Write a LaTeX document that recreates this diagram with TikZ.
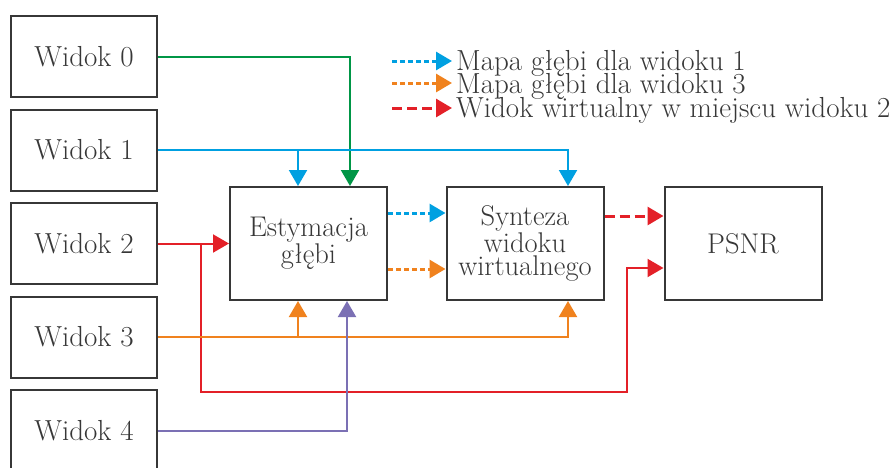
\documentclass[tikz,border=0pt]{standalone}
\usepackage{fontspec}
\usetikzlibrary{arrows.meta,calc,positioning}
\definecolor{boxgray}{RGB}{55,55,55}
\definecolor{cgreen}{RGB}{0,150,70}
\definecolor{cblue}{RGB}{0,160,225}
\definecolor{cred}{RGB}{227,32,40}
\definecolor{corange}{RGB}{240,130,30}
\definecolor{cpurple}{RGB}{123,112,180}

\begin{document}
\begin{tikzpicture}[x=1pt,y=-1pt,
            view box/.style={draw=boxgray, line width=2pt, minimum width=146pt, minimum height=81pt,
                font=\fontsize{29}{30}\selectfont, text=boxgray},
            block box/.style={draw=boxgray, line width=2pt, minimum width=157pt, minimum height=113pt,
                align=center, font=\fontsize{28.5}{23.5}\selectfont, text=boxgray},
            legend text/.style={anchor=base west, inner xsep=4pt, inner ysep=0pt, text height=17pt,
                text depth=5pt, font=\fontsize{29}{29}\selectfont, text=boxgray},
            flow/.style={line width=2pt},
            tip/.style={-{Triangle[width=18pt,length=16pt]}},
            dot flow/.style={line width=3pt, dash pattern=on 5pt off 3pt},
            dash flow/.style={line width=3pt, dash pattern=on 10pt off 5pt}]

            \useasboundingbox (0,0) rectangle (895,467);

            % input views
            \foreach \i in {0,...,4}
                \node[view box] (w\i) at (84,56.5+93.5*\i) {Widok \i};

            % processing blocks
            \node[block box] (est) at (308.5,243.5) {Estymacja\\głębi};
            \node[block box] (syn) at (525,243.5) {Synteza\\widoku\\wirtualnego};
            \node[block box] (psnr) at (743,243.5) {PSNR};

            % legend
            \node[legend text] (l1) at (452,70) {Mapa głębi dla widoku 1};
            \node[legend text] (l2) at (452,93) {Mapa głębi dla widoku 3};
            \node[legend text] (l3) at (452,117) {Widok wirtualny w miejscu widoku 2};
            \coordinate (k1) at (392,61);
            \coordinate (k2) at (392,83);
            \coordinate (k3) at (392,108);
            \draw[dot flow, cblue, tip] (k1) -- (k1 -| l1.west);
            \draw[dot flow, corange, tip] (k2) -- (k2 -| l2.west);
            \draw[dash flow, cred, tip] (k3) -- (k3 -| l3.west);

            % view 0
            \draw[flow, cgreen, tip] (w0.east) -| ([xshift=41.5pt]est.north);

            % view 1
            \coordinate (bsplit) at ([xshift=-10.5pt]est.north |- w1.east);
            \draw[flow, cblue, tip] (w1.east) -| ([xshift=43pt]syn.north);
            \draw[flow, cblue, tip] (bsplit) -- ([xshift=-10.5pt]est.north);

            % view 2
            \coordinate (rsplit) at (201,243.5);
            \coordinate (rturn) at (627,392);
            \draw[flow, cred, tip] (w2.east) -- (est.west);
            \draw[flow, cred, tip] (rsplit) |- (rturn) |- ([yshift=-24.5pt]psnr.west);

            % view 3
            \coordinate (osplit) at ([xshift=-10.5pt]est.south |- w3.east);
            \draw[flow, corange, tip] (w3.east) -| ([xshift=43pt]syn.south);
            \draw[flow, corange, tip] (osplit) -- ([xshift=-10.5pt]est.south);

            % view 4
            \draw[flow, cpurple, tip] (w4.east) -| ([xshift=38.5pt]est.south);

            % depth maps and synthesized view
            \draw[dot flow, cblue, tip] ([yshift=30.5pt]est.east) -- ([yshift=30.5pt]syn.west);
            \draw[dot flow, corange, tip] ([yshift=-25.5pt]est.east) -- ([yshift=-25.5pt]syn.west);
            \draw[dash flow, cred, tip] ([yshift=27.5pt]syn.east) -- ([yshift=27.5pt]psnr.west);

        \end{tikzpicture}
\end{document}
